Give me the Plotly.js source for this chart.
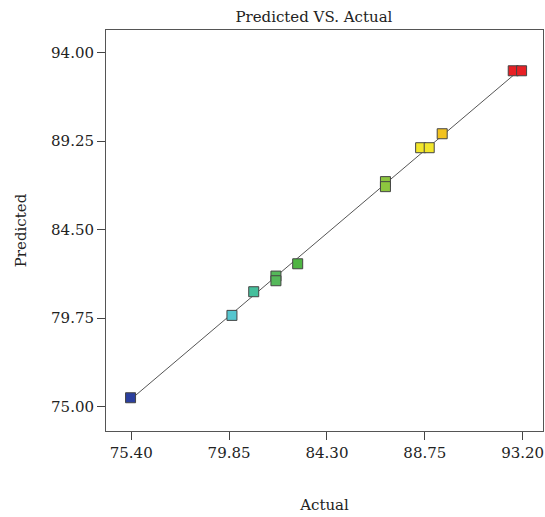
<!DOCTYPE html>
<html>
<head>
<meta charset="utf-8">
<script src="https://cdn.plot.ly/plotly-3.0.1.min.js"></script>
<style>html,body{margin:0;padding:0;background:#fff;}#chart{width:545px;height:517px;}</style>
</head>
<body>
<div id="chart"></div>
<script>
// Data
var actual    = [75.37, 79.98, 80.97, 81.98, 81.98, 82.97, 86.96, 86.96, 88.56, 88.95, 89.54, 92.77, 93.15];
var predicted = [75.47, 79.89, 81.16, 82.00, 81.75, 82.66, 87.07, 86.80, 88.89, 88.89, 89.64, 93.02, 93.02];
var pointColors = ['#2b3f9e', '#56c6cf', '#45bf9c', '#55b85a', '#55b85a', '#4fb543', '#8dc63f', '#8dc63f',
                   '#f2e62a', '#f2e62a', '#f2c21f', '#e82025', '#e82025'];
var lineX = [75.37, 92.95];
var lineY = [75.37, 92.95];
var xTicks = [75.40, 79.85, 84.30, 88.75, 93.20];
var xTickLabels = ['75.40', '79.85', '84.30', '88.75', '93.20'];
var yTicks = [75.00, 79.75, 84.50, 89.25, 94.00];
var yTickLabels = ['75.00', '79.75', '84.50', '89.25', '94.00'];

var font = 'DejaVu Serif, Liberation Serif, serif';

var traces = [
  {x: lineX, y: lineY, mode: 'lines', type: 'scatter',
   line: {color: '#555555', width: 1}, hoverinfo: 'skip', showlegend: false},
  {x: actual, y: predicted, mode: 'markers', type: 'scatter',
   marker: {symbol: 'square', size: 10, color: pointColors, line: {color: '#444444', width: 1}},
   showlegend: false}
];

var layout = {
  width: 545, height: 517,
  margin: {l: 106, r: 2, t: 30, b: 86},
  paper_bgcolor: '#ffffff', plot_bgcolor: '#ffffff',
  font: {family: font, size: 15, color: '#222222'},
  title: {text: 'Predicted VS. Actual', font: {family: font, size: 15, color: '#222222'},
          x: 0.576, xref: 'container', xanchor: 'center', y: 0.967, yref: 'container', yanchor: 'middle'},
  xaxis: {
    range: [74.253, 94.124], tickmode: 'array', tickvals: xTicks, ticktext: xTickLabels,
    ticks: 'outside', ticklen: 8, tickcolor: '#444', tickwidth: 1,
    showline: true, linecolor: '#555', linewidth: 1, mirror: true,
    showgrid: false, zeroline: false,
    tickfont: {family: font, size: 15, color: '#222'},
    title: {text: 'Actual', font: {family: font, size: 15, color: '#222'}, standoff: 38}
  },
  yaxis: {
    range: [73.685, 95.208], tickmode: 'array', tickvals: yTicks, ticktext: yTickLabels,
    ticks: 'outside', ticklen: 8, tickcolor: '#444', tickwidth: 1,
    showline: true, linecolor: '#555', linewidth: 1, mirror: true,
    showgrid: false, zeroline: false,
    tickfont: {family: font, size: 15, color: '#222'},
    title: {text: 'Predicted', font: {family: font, size: 15, color: '#222'}, standoff: 20}
  }
};

Plotly.newPlot('chart', traces, layout, {displayModeBar: false, staticPlot: true});
</script>
</body>
</html>
